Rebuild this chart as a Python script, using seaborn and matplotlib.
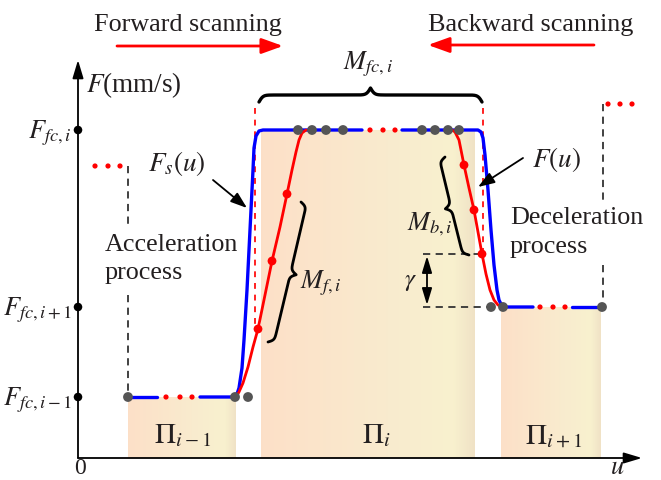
import numpy as np
import matplotlib
matplotlib.use("Agg")
import matplotlib.pyplot as plt
import seaborn as sns

# ---------------- data (u, F in diagram units) ----------------
level_F = [61, 151, 328]
level_labels = [r"$F_{fc,i-1}$", r"$F_{fc,i+1}$", r"$F_{fc,i}$"]
F_prev, F_next = 292, 354

band_u0 = [50, 183, 423]
band_u1 = [158, 397, 523]
band_top = [61, 328, 151]
band_labels = [r"$\Pi_{i-1}$", r"$\Pi_{i}$", r"$\Pi_{i+1}$"]
band_label_u = [105, 298, 476]

# F_s(u) blue, split where the dotted ellipses are
blue_seg1_u = [50, 79]
blue_seg1_F = [61, 61]
blue_seg2_u = [122, 158, 161, 164, 166, 169, 172, 175, 176, 178, 181, 185, 284]
blue_seg2_F = [61, 61, 70, 90, 118, 168, 228, 288, 310, 322, 327, 328, 328]
blue_seg3_u = [324, 400, 403, 405, 407, 410, 413, 416, 419, 421, 424, 428, 455]
blue_seg3_F = [328, 328, 326, 320, 303, 268, 228, 193, 168, 158, 152, 151, 151]
blue_seg4_u = [494, 523]
blue_seg4_F = [151, 151]

ell_u = [88, 102, 114, 292, 305, 317, 462, 475, 487, 17, 30, 42, 530, 542, 554]
ell_F = [61, 61, 61, 328, 328, 328, 151, 151, 151, 292, 292, 292, 354, 354, 354]

# F(u) red forward / backward
fwd_u = [158, 161, 165, 170, 175, 180, 187, 194, 202, 209, 214, 218, 221, 224, 228]
fwd_F = [61, 66, 75, 91, 111, 129, 163, 197, 231, 264, 288, 306, 318, 325, 328]
bwd_u = [374, 377, 381, 386, 391, 396, 400, 404, 408, 412, 416, 420, 425]
bwd_F = [328, 326, 318, 293, 270, 248, 226, 204, 184, 168, 158, 153, 151]
fwd_dot_u = [180, 194, 209]
fwd_dot_F = [129, 197, 264]
bwd_dot_u = [386, 396, 404]
bwd_dot_F = [293, 248, 204]

gray_u = [50, 157, 170, 220, 234, 248, 265, 344, 357, 370, 381, 413, 425, 524]
gray_F = [61, 61, 61, 328, 328, 328, 328, 328, 328, 328, 328, 151, 151, 151]

TXT = "#231f20"
FS = 18.8

sns.set_theme(style="white")
plt.rcParams["font.family"] = ["Liberation Serif", "DejaVu Serif"]
plt.rcParams["mathtext.fontset"] = "stix"

fig = plt.figure(figsize=(6.61, 4.80), dpi=100)
ax = fig.add_axes([0, 0, 1, 1])


def gradient_band(u0, u1, top):
    pos = [0.0, 0.6, 0.9, 1.0]
    cols = [(0.992, 0.878, 0.784), (0.976, 0.922, 0.808),
            (0.973, 0.945, 0.808), (0.941, 0.886, 0.776)]
    xs = np.linspace(0, 1, 256)
    rgb = np.stack([np.interp(xs, pos, [c[k] for c in cols]) for k in range(3)], axis=-1)
    ax.imshow(rgb[None, :, :], extent=(u0, u1, 0, top), aspect="auto",
              zorder=0, interpolation="bilinear")


for a, b, t in zip(band_u0, band_u1, band_top):
    gradient_band(a, b, t)
for u, lab in zip(band_label_u, band_labels):
    ax.text(u, 22, lab, fontsize=21, color=TXT, ha="center", va="center")

# axes arrows
ax.annotate("", xy=(0, 398), xytext=(0, 0),
            arrowprops=dict(arrowstyle="-|>,head_length=1.0,head_width=0.3",
                            mutation_scale=11, lw=1.3, color="black", shrinkA=0, shrinkB=0))
ax.annotate("", xy=(564, 0), xytext=(0, 0),
            arrowprops=dict(arrowstyle="-|>,head_length=1.0,head_width=0.3",
                            mutation_scale=11, lw=1.3, color="black", shrinkA=0, shrinkB=0))
sns.scatterplot(x=[0] * len(level_F), y=level_F, s=38, color="black",
                edgecolor="none", ax=ax, zorder=6, legend=False)
for f, lab in zip(level_F, level_labels):
    ax.text(-6, f - 8, lab, fontsize=19, color=TXT, ha="right", va="baseline")
ax.text(8, 366, r"$F$(mm/s)", fontsize=19.5, color=TXT, ha="left", va="baseline")
ax.text(2, -21, "0", fontsize=17, color=TXT, ha="center", va="bottom")
ax.text(539, -21, r"$u$", fontsize=19, color=TXT, ha="center", va="bottom")

# guide lines
dash_k = dict(color="#333333", lw=1.3, linestyle=(0, (4, 3)), zorder=2)
ax.plot([50, 50], [F_prev, 231], **dash_k)
ax.plot([50, 50], [163, 61], **dash_k)
ax.plot([525, 525], [F_next, 258], **dash_k)
ax.plot([525, 525], [193, 151], **dash_k)
ax.plot([345, 400], [204, 204], **dash_k)
ax.plot([345, 410], [151, 151], **dash_k)
dash_r = dict(color="#ff2020", lw=1.4, linestyle=(0, (3, 3)), zorder=2)
ax.plot([177, 177], [350, 131], **dash_r)
ax.plot([405, 405], [350, 200], **dash_r)

# curves
for uu, ff in [(blue_seg1_u, blue_seg1_F), (blue_seg2_u, blue_seg2_F),
               (blue_seg3_u, blue_seg3_F), (blue_seg4_u, blue_seg4_F)]:
    sns.lineplot(x=uu, y=ff, sort=False, estimator=None, color="#0000ff",
                 lw=2.4, ax=ax, zorder=3, legend=False)
sns.lineplot(x=fwd_u, y=fwd_F, sort=False, estimator=None, color="#ff0000",
             lw=2.0, ax=ax, zorder=4, legend=False)
sns.lineplot(x=bwd_u, y=bwd_F, sort=False, estimator=None, color="#ff0000",
             lw=2.0, ax=ax, zorder=4, legend=False)
sns.scatterplot(x=fwd_dot_u + bwd_dot_u, y=fwd_dot_F + bwd_dot_F, s=40,
                color="#ff0000", edgecolor="none", ax=ax, zorder=5, legend=False)
sns.scatterplot(x=ell_u, y=ell_F, s=14, color="#ff0000", edgecolor="none",
                ax=ax, zorder=5, legend=False)
sns.scatterplot(x=gray_u, y=gray_F, s=50, color="#555555", edgecolor="none",
                ax=ax, zorder=6, legend=False)


def brace(p0, p1, depth, side=1, lw=2.2, beta=0.6):
    p0 = np.array(p0, float)
    p1 = np.array(p1, float)
    d = p1 - p0
    L = np.hypot(*d)
    e = d / L
    n = np.array([-e[1], e[0]]) * side
    t = np.linspace(0, L / 2, 300)
    sig = lambda z: 1 / (1 + np.exp(-z))
    h = sig(beta * t) + sig(beta * (t - L / 2)) - 0.5
    tt = np.concatenate([t, L - t[::-1][1:]])
    hh = np.concatenate([h, h[::-1][1:]])
    pts = p0[None, :] + tt[:, None] * e[None, :] + (hh * depth)[:, None] * n[None, :]
    ax.plot(pts[:, 0], pts[:, 1], color="black", lw=lw, zorder=5,
            solid_capstyle="round")


brace((181, 356), (404, 356), 14, side=1, lw=2.4, beta=0.5)
brace((190, 116), (223, 256), 12, side=-1, lw=2.0, beta=0.6)
brace((391, 203), (367, 301), 12, side=1, lw=2.0, beta=0.6)
ax.text(290, 389, r"$M_{fc,i}$", fontsize=19, color=TXT, ha="center", va="baseline")
ax.text(222, 170, r"$M_{f,i}$", fontsize=19, color=TXT, ha="left", va="baseline")
ax.text(329, 228, r"$M_{b,i}$", fontsize=19, color=TXT, ha="left", va="baseline")

# gamma
ax.annotate("", xy=(349, 153), xytext=(349, 202),
            arrowprops=dict(arrowstyle="<|-|>,head_length=1.0,head_width=0.3",
                            mutation_scale=10, lw=1.3, color="black", shrinkA=0, shrinkB=0))
ax.text(332, 176, r"$\gamma$", fontsize=18, color=TXT, ha="center", va="center")

# curve labels
ax.text(99, 295, r"$F_s(u)$", fontsize=19.5, color=TXT, ha="center", va="center")
ax.annotate("", xy=(169, 250), xytext=(135, 278),
            arrowprops=dict(arrowstyle="-|>,head_length=1.0,head_width=0.35",
                            mutation_scale=10, lw=1.3, color="black", shrinkA=0, shrinkB=0))
ax.text(478, 298, r"$F(u)$", fontsize=19.5, color=TXT, ha="center", va="center")
ax.annotate("", xy=(400, 271), xytext=(445, 300),
            arrowprops=dict(arrowstyle="-|>,head_length=1.0,head_width=0.35",
                            mutation_scale=10, lw=1.3, color="black", shrinkA=0, shrinkB=0))

ax.text(27, 213, "Acceleration", fontsize=FS, color=TXT, ha="left", va="center")
ax.text(27, 185, "process", fontsize=FS, color=TXT, ha="left", va="center")
ax.text(432, 240, "Deceleration", fontsize=FS, color=TXT, ha="left", va="center")
ax.text(432, 211, "process", fontsize=FS, color=TXT, ha="left", va="center")

# scanning directions
ax.text(110, 433, "Forward scanning", fontsize=FS, color=TXT, ha="center", va="center")
ax.text(453, 433, "Backward scanning", fontsize=FS, color=TXT, ha="center", va="center")
ax.annotate("", xy=(205, 412), xytext=(39, 412),
            arrowprops=dict(arrowstyle="-|>,head_length=1.0,head_width=0.36",
                            mutation_scale=13, lw=2.0, color="#ff0000", shrinkA=0, shrinkB=0))
ax.annotate("", xy=(350, 413), xytext=(516, 413),
            arrowprops=dict(arrowstyle="-|>,head_length=1.0,head_width=0.36",
                            mutation_scale=13, lw=2.0, color="#ff0000", shrinkA=0, shrinkB=0))

ax.set_xlim(-78, 583)
ax.set_ylim(-22, 458)
ax.axis("off")
fig.savefig("out.png", dpi=100)
